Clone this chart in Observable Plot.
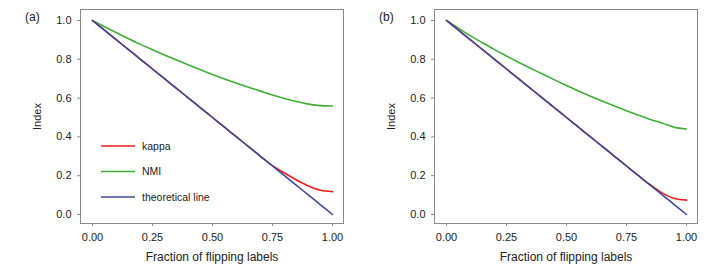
<!DOCTYPE html>
<html>
<head>
<meta charset="utf-8">
<script src="https://cdn.jsdelivr.net/npm/d3@7"></script>
<script src="https://cdn.jsdelivr.net/npm/@observablehq/plot@0.6"></script>
<style>
  html, body { margin: 0; padding: 0; background: #fff; }
  #wrap { display: flex; width: 708px; height: 273px; }
  .panel { position: relative; width: 354px; height: 273px; }
  .panel svg text { font-family: "Liberation Sans", Arial, sans-serif; }
  .tag { position: absolute; left: 25px; top: 10px; font: 12px "Liberation Sans", Arial, sans-serif; color: #222; }
</style>
</head>
<body>
<div id="wrap"></div>
<script>
// Fraction of flipping labels
const fraction = [0, 0.05, 0.1, 0.15, 0.2, 0.25, 0.3, 0.35, 0.4, 0.45, 0.5, 0.55, 0.6, 0.65, 0.7, 0.75, 0.8, 0.85, 0.9, 0.95, 1.0];

// Panel (a)
const kappaA = [1.0, 0.95, 0.9, 0.85, 0.8, 0.75, 0.7, 0.65, 0.6, 0.55, 0.5, 0.45, 0.4, 0.35, 0.3, 0.252, 0.214, 0.178, 0.147, 0.125, 0.118];
const nmiA   = [1.0, 0.968, 0.937, 0.906, 0.877, 0.849, 0.822, 0.796, 0.771, 0.746, 0.722, 0.699, 0.677, 0.656, 0.636, 0.616, 0.598, 0.582, 0.569, 0.561, 0.559];

// Panel (b)
const kappaB = [1.0, 0.95, 0.9, 0.85, 0.8, 0.75, 0.7, 0.65, 0.6, 0.55, 0.5, 0.45, 0.4, 0.35, 0.3, 0.25, 0.2, 0.152, 0.11, 0.082, 0.074];
const nmiB   = [1.0, 0.96, 0.921, 0.885, 0.85, 0.817, 0.785, 0.754, 0.724, 0.694, 0.665, 0.637, 0.61, 0.584, 0.559, 0.535, 0.512, 0.49, 0.47, 0.449, 0.441];

// Theoretical line
const theory = [1.0, 0.95, 0.9, 0.85, 0.8, 0.75, 0.7, 0.65, 0.6, 0.55, 0.5, 0.45, 0.4, 0.35, 0.3, 0.25, 0.2, 0.15, 0.1, 0.05, 0.0];

const seriesNames = ["kappa", "NMI", "theoretical line"];
const seriesColors = ["#ee1c1c", "#3fae35", "#3c4a99"];
const xTicks = [0, 0.25, 0.5, 0.75, 1.0];
const yTicks = [0, 0.2, 0.4, 0.6, 0.8, 1.0];

function rows(kappa, nmi) {
  const out = [];
  fraction.forEach((f, i) => {
    out.push({x: f, y: kappa[i], s: "kappa"});
    out.push({x: f, y: nmi[i], s: "NMI"});
    out.push({x: f, y: theory[i], s: "theoretical line"});
  });
  return out;
}

function panel(tag, data, withLegend) {
  const font = '"Liberation Sans", Arial, sans-serif';
  const lineOpts = (i) => ({x: "x", y: "y", stroke: seriesColors[i], strokeWidth: 1.6, curve: "monotone-x"});
  const marks = [
    Plot.frame({stroke: "#8a8a8a", strokeWidth: 1}),
    Plot.line(data.filter(d => d.s === "NMI"), lineOpts(1)),
    Plot.line(data.filter(d => d.s === "kappa"), lineOpts(0)),
    Plot.line(data.filter(d => d.s === "theoretical line"), lineOpts(2)),
    Plot.axisX(xTicks, {tickFormat: d3.format(".2f"), tickSize: 3, tickPadding: 7, stroke: "#8a8a8a", fill: "#222", fontSize: 11, label: null}),
    Plot.axisX([], {label: "Fraction of flipping labels", labelAnchor: "center", labelArrow: "none", labelOffset: 37, fontSize: 12, fill: "#222", tickSize: 0}),
    Plot.axisY(yTicks, {tickFormat: d3.format(".1f"), tickSize: 3, tickPadding: 6, stroke: "#8a8a8a", fill: "#222", fontSize: 11, label: "Index", labelAnchor: "center", labelArrow: "none", labelOffset: 47})
  ];
  const chart = Plot.plot({
    width: 354,
    height: 273,
    marginLeft: 80,
    marginRight: 11,
    marginTop: 9,
    marginBottom: 50,
    insetLeft: 12,
    insetRight: 11,
    insetTop: 11,
    insetBottom: 9,
    x: {domain: [0, 1]},
    y: {domain: [0, 1]},
    style: {fontFamily: font, fontSize: "11px", color: "#222", background: "#fff"},
    marks
  });
  const div = document.createElement("div");
  div.className = "panel";
  div.appendChild(chart);
  const t = document.createElement("div");
  t.className = "tag";
  t.textContent = tag;
  div.appendChild(t);
  if (withLegend) {
    const svg = d3.select(chart);
    const g = svg.append("g").attr("font-family", font).attr("font-size", 10.5)
      .attr("fill", "#222").attr("text-anchor", "start");
    seriesNames.forEach((name, i) => {
      const y = 146 + i * 25.5;
      g.append("line").attr("x1", 101).attr("x2", 135).attr("y1", y).attr("y2", y)
        .attr("stroke", seriesColors[i]).attr("stroke-width", 1.6);
      g.append("text").attr("x", 142).attr("y", y).attr("dy", "0.35em").text(name);
    });
  }
  return div;
}

const wrap = document.getElementById("wrap");
wrap.appendChild(panel("(a)", rows(kappaA, nmiA), true));
wrap.appendChild(panel("(b)", rows(kappaB, nmiB), false));
</script>
</body>
</html>
